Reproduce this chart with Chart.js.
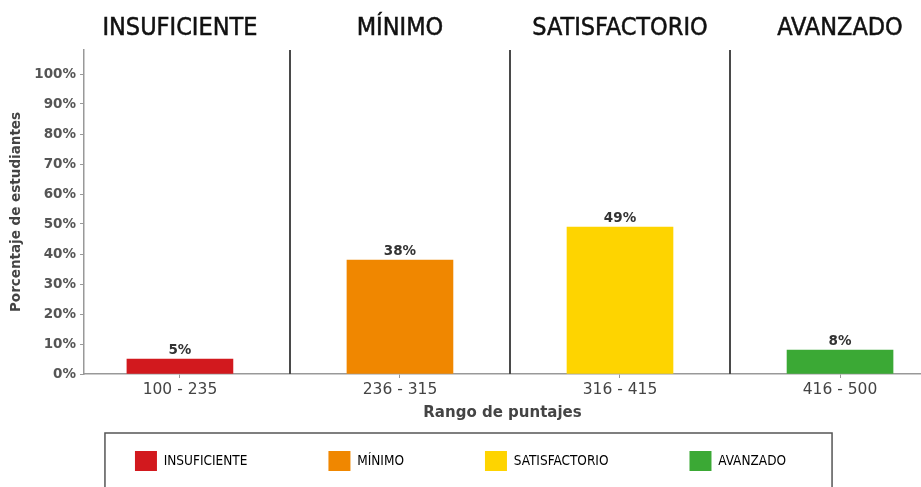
<!DOCTYPE html>
<html>
<head>
<meta charset="utf-8">
<script src="https://cdn.jsdelivr.net/npm/chart.js@4/dist/chart.umd.min.js"></script>
<style>
  html, body { margin: 0; padding: 0; background: #fff; }
  canvas { display: block; }
</style>
</head>
<body>
<canvas id="grafico" width="921" height="487"></canvas>
<script>
// datos del grafico
const niveles = ['INSUFICIENTE', 'MÍNIMO', 'SATISFACTORIO', 'AVANZADO'];
const rangos = ['100 - 235', '236 - 315', '316 - 415', '416 - 500'];
const porcentajes = [5, 38, 49, 8];
const ticksY = [0, 10, 20, 30, 40, 50, 60, 70, 80, 90, 100];
const colores = ['#d2191e', '#f08700', '#fed400', '#3ba935'];

const fuenteNarrow = "'Liberation Sans Narrow', 'DejaVu Sans Condensed', sans-serif";
Chart.defaults.font.family = "'DejaVu Sans', sans-serif";

// lineas separadoras, titulos de nivel y etiquetas de valor
const decoraciones = {
  id: 'decoraciones',
  beforeDraw(chart) {
    // la leyenda se baja a su recuadro
    chart.legend.top = 451 - chart.legend.options.labels.padding;
  },
  afterDraw(chart) {
    const ctx = chart.ctx;
    const area = chart.chartArea;
    const x = chart.scales.x;
    ctx.save();
    ctx.strokeStyle = '#4a4a4a';
    ctx.lineWidth = 2;
    for (let i = 0; i < niveles.length - 1; i++) {
      const px = Math.round(x.getPixelForValue(i + 0.5));
      ctx.beginPath();
      ctx.moveTo(px, area.top);
      ctx.lineTo(px, area.bottom);
      ctx.stroke();
    }
    ctx.fillStyle = '#111';
    ctx.strokeStyle = '#111';
    ctx.lineWidth = 0.5;
    ctx.font = '25px ' + fuenteNarrow;
    ctx.textAlign = 'center';
    ctx.textBaseline = 'middle';
    niveles.forEach((n, i) => {
      ctx.fillText(n, x.getPixelForValue(i), area.top - 22);
      ctx.strokeText(n, x.getPixelForValue(i), area.top - 22);
    });
    const meta = chart.getDatasetMeta(0);
    ctx.fillStyle = '#333';
    ctx.font = "bold 13.5px 'DejaVu Sans', sans-serif";
    ctx.textBaseline = 'alphabetic';
    meta.data.forEach((bar, i) => {
      ctx.fillText(porcentajes[i] + '%', bar.x, bar.y - 5);
    });
    // recuadro de la leyenda
    const hb = chart.legend.legendHitBoxes;
    if (hb && hb.length) {
      const l = hb[0].left - 30;
      const r = hb[hb.length - 1].left + hb[hb.length - 1].width + 46;
      ctx.strokeStyle = '#555';
      ctx.lineWidth = 1.5;
      ctx.strokeRect(l, 433, r - l, 60);
    }
    ctx.restore();
  }
};

const ctx = document.getElementById('grafico').getContext('2d');
const grafico = new Chart(ctx, {
  type: 'bar',
  data: {
    datasets: [{
      data: porcentajes.map((v, i) => ({ x: i, y: v })),
      backgroundColor: colores,
      borderWidth: 0,
      barThickness: 106
    }]
  },
  options: {
    responsive: false,
    animation: false,
    layout: { padding: { top: 50, left: 0, right: 0, bottom: 0 } },
    scales: {
      x: {
        type: 'linear',
        offset: false,
        min: -0.436,
        max: 3.368,
        afterBuildTicks: (scale) => { scale.ticks = rangos.map((r, i) => ({ value: i })); },
        afterFit: (scale) => { scale.height = 57; },
        ticks: {
          callback: (v) => rangos[v],
          color: '#444',
          font: { size: 15.5 },
          padding: 3,
          maxRotation: 0
        },
        grid: { offset: false, drawOnChartArea: false, tickLength: 4, color: '#999' },
        border: { color: '#999', width: 1.5 },
        title: {
          display: true,
          text: 'Rango de puntajes',
          color: '#444',
          font: { size: 15, weight: 'bold' },
          padding: { top: 0, bottom: 9 }
        }
      },
      y: {
        min: 0,
        max: 108,
        afterBuildTicks: (scale) => { scale.ticks = ticksY.map(v => ({ value: v })); },
        afterFit: (scale) => { scale.width = 84; },
        ticks: {
          callback: (v) => v + '%',
          color: '#555',
          font: { size: 13.5, weight: 'bold' },
          padding: 4
        },
        grid: { drawOnChartArea: false, tickLength: 4, color: '#999' },
        border: { color: '#999', width: 1.5 },
        title: {
          display: true,
          text: 'Porcentaje de estudiantes',
          color: '#444',
          font: { size: 13.5, weight: 'bold' },
          padding: { top: 8, bottom: 0 }
        }
      }
    },
    plugins: {
      tooltip: { enabled: false },
      legend: {
        position: 'bottom',
        maxHeight: 56,
        onClick: null,
        labels: {
          boxWidth: 22,
          boxHeight: 20,
          padding: 81,
          color: '#555',
          font: { size: 13.5, family: fuenteNarrow },
          generateLabels: () => niveles.map((n, i) => ({
            text: n,
            fillStyle: colores[i],
            strokeStyle: colores[i],
            lineWidth: 0,
            hidden: false,
            index: i
          }))
        }
      }
    }
  },
  plugins: [decoraciones]
});
</script>
</body>
</html>
